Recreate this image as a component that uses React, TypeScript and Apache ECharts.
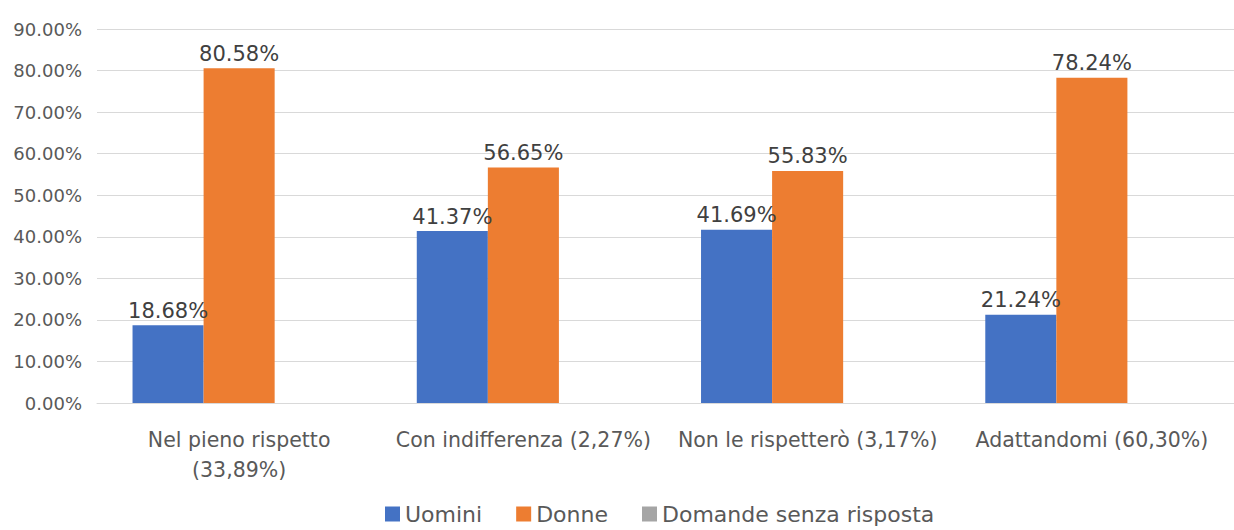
import React, { useEffect, useRef } from "react";
import * as echarts from "echarts";

const categories = [
  "Nel pieno rispetto\n(33,89%)",
  "Con indifferenza (2,27%)",
  "Non le rispetterò (3,17%)",
  "Adattandomi (60,30%)",
];
const seriesNames = ["Uomini", "Donne", "Domande senza risposta"];
const uomini = [18.68, 41.37, 41.69, 21.24];
const donne = [80.58, 56.65, 55.83, 78.24];
const senzaRisposta: (number | null)[] = [null, null, null, null];
const colors = ["#4472C4", "#ED7D31", "#A5A5A5"];

const FONT = "'DejaVu Sans', 'Open Sans', sans-serif";

export default function App() {
  const ref = useRef<HTMLDivElement>(null);
  useEffect(() => {
    if (!ref.current) return;
    const chart = echarts.init(ref.current, null, { renderer: "svg" });
    const label = {
      show: true,
      position: "top" as const,
      distance: 4,
      color: "#404040",
      fontSize: 21,
      fontFamily: FONT,
      formatter: (p: any) => (p.value == null ? "" : p.value.toFixed(2) + "%"),
    };
    chart.setOption({
      animation: false,
      backgroundColor: "#ffffff",
      color: colors,
      textStyle: { fontFamily: FONT },
      grid: { left: 97, top: 29, width: 1144, height: 374, containLabel: false },
      legend: {
        left: 380,
        bottom: 0,
        icon: "rect",
        itemWidth: 15,
        itemHeight: 15,
        itemGap: 34,
        textStyle: { fontSize: 22, color: "#595959", fontFamily: FONT },
        data: seriesNames,
      },
      xAxis: {
        type: "category",
        data: categories,
        axisLine: { show: true, lineStyle: { color: "#D9D9D9", width: 1 } },
        axisTick: { show: false },
        axisLabel: {
          color: "#595959",
          fontSize: 20.5,
          fontFamily: FONT,
          lineHeight: 30,
          margin: 22,
          interval: 0,
        },
      },
      yAxis: {
        type: "value",
        min: 0,
        max: 90,
        interval: 10,
        axisLine: { show: false },
        axisTick: { show: false },
        splitLine: { lineStyle: { color: "#D9D9D9", width: 1 } },
        axisLabel: {
          color: "#595959",
          fontSize: 18,
          fontFamily: FONT,
          margin: 15,
          formatter: (v: number) => v.toFixed(2) + "%",
        },
      },
      series: [
        {
          name: seriesNames[0],
          type: "bar",
          data: uomini,
          barGap: "0%",
          barCategoryGap: "25%",
          label,
        },
        {
          name: seriesNames[1],
          type: "bar",
          data: donne,
          barGap: "0%",
          barCategoryGap: "25%",
          label,
        },
        {
          name: seriesNames[2],
          type: "bar",
          data: senzaRisposta,
          barGap: "0%",
          barCategoryGap: "25%",
          label,
        },
      ],
    });
    return () => chart.dispose();
  }, []);
  return (
    <div
      ref={ref}
      style={{ position: "absolute", left: 0, top: 0, width: 1234, height: 530 }}
    />
  );
}
